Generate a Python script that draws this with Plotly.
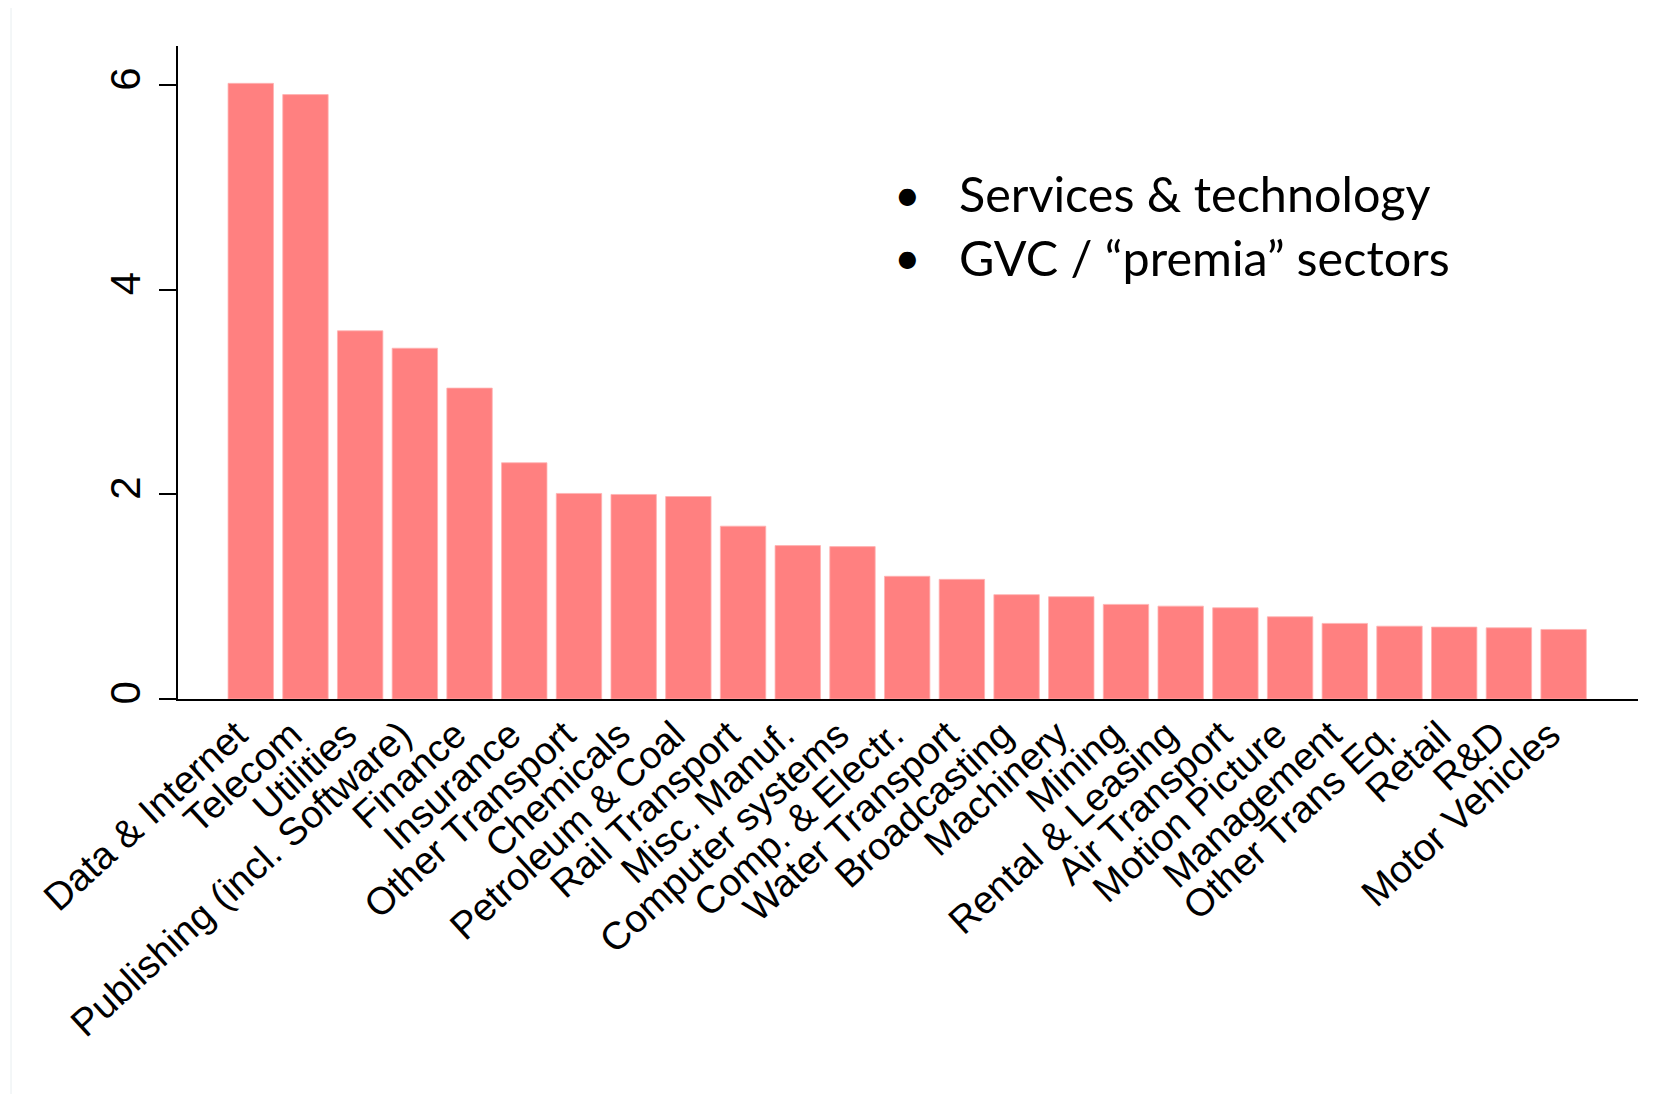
import plotly.graph_objects as go

sectors = [
    "Data & Internet", "Telecom", "Utilities", "Publishing (incl. Software)",
    "Finance", "Insurance", "Other Transport", "Chemicals", "Petroleum & Coal",
    "Rail Transport", "Misc. Manuf.", "Computer systems", "Comp. & Electr.",
    "Water Transport", "Broadcasting", "Machinery", "Mining", "Rental & Leasing",
    "Air Transport", "Motion Picture", "Management", "Other Trans Eq.",
    "Retail", "R&D", "Motor Vehicles",
]
values = [
    6.02, 5.91, 3.60, 3.43, 3.04, 2.31, 2.01, 2.00, 1.98, 1.69, 1.50, 1.49,
    1.20, 1.17, 1.02, 1.00, 0.925, 0.908, 0.892, 0.804, 0.739, 0.712, 0.703,
    0.696, 0.680,
]
y_ticks = [0, 2, 4, 6]
notes = ["Services & technology", "GVC / \u201cpremia\u201d sectors"]

W, H = 1670, 1094
OFF = 8  # page body margin offset
L, R, T, B = 178 - OFF, 32 + OFF, 46 - OFF, 395 + OFF
pw, ph = W - L - R, H - T - B

fig = go.Figure()
fig.add_trace(go.Bar(
    x=sectors, y=values,
    marker=dict(color="#FF8080", line=dict(color="#FFB3B3", width=0.8)),
))

fig.update_layout(
    width=W, height=H,
    margin=dict(l=L, r=R, t=T, b=B),
    paper_bgcolor="white", plot_bgcolor="white",
    bargap=0.17,
    showlegend=False,
    font=dict(family="Liberation Sans, Arial, sans-serif", color="black"),
)
fig.update_xaxes(
    type="category",
    range=[-1.33, 24 + 1.36],
    showline=True, linecolor="black", linewidth=2,
    ticks="", showgrid=False, zeroline=False,
    tickangle=-42.5,
    ticklabelshift=-14,
    ticklabelstandoff=-4,
    tickfont=dict(size=38.5, family="Liberation Sans, Arial, sans-serif", color="black"),
)
fig.update_yaxes(
    range=[0, 6.385],
    tickvals=y_ticks, ticktext=[str(v) for v in y_ticks],
    showline=True, linecolor="black", linewidth=2,
    ticks="outside", ticklen=17, tickwidth=2, tickcolor="black",
    showgrid=False, zeroline=False,
    tickangle=-90,
    ticklabelstandoff=2,
    tickfont=dict(size=42, family="Liberation Sans, Arial, sans-serif", color="black"),
)

def px_x(p):
    return (p - OFF - L) / pw

def px_y(p):
    return 1 - (p - OFF - T) / ph

line_y = [193, 257]
for txt, yy in zip(notes, line_y):
    fig.add_annotation(
        x=px_x(907), y=px_y(yy), xref="paper", yref="paper",
        text="\u2022", showarrow=False, xanchor="center", yanchor="middle",
        font=dict(family="Lato, Open Sans, sans-serif", size=46, color="black"),
    )
    fig.add_annotation(
        x=px_x(957), y=px_y(yy), xref="paper", yref="paper",
        text=txt, showarrow=False, xanchor="left", yanchor="middle",
        font=dict(family="Lato, Open Sans, sans-serif", size=48.5, color="black"),
    )

# faint outer frame of the graph region
fig.add_shape(
    type="rect", xref="paper", yref="paper",
    x0=px_x(11), x1=px_x(W + 20), y0=px_y(H + 20), y1=px_y(6),
    line=dict(color="#E8EEF0", width=1), fillcolor="rgba(0,0,0,0)", layer="below",
)

fig.write_html("out.html")
